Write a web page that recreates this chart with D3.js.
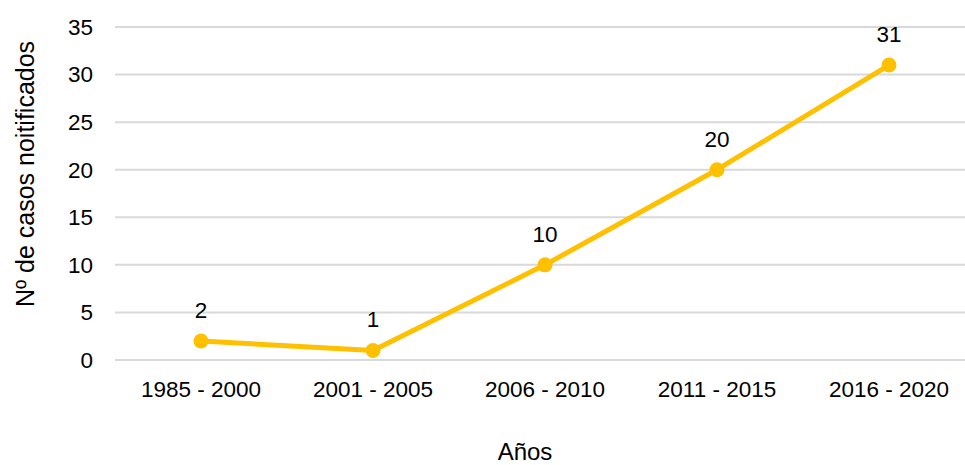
<!DOCTYPE html>
<html>
<head>
<meta charset="utf-8">
<script src="https://cdn.jsdelivr.net/npm/d3@7"></script>
<style>
  body { margin: 0; background: #fff; }
  text { font-family: "Liberation Sans", Arial, sans-serif; fill: #000; }
</style>
</head>
<body>
<script>
var periods = ["1985 - 2000", "2001 - 2005", "2006 - 2010", "2011 - 2015", "2016 - 2020"];
var casos = [2, 1, 10, 20, 31];
var yTicks = [0, 5, 10, 15, 20, 25, 30, 35];

var w = 965, h = 465;
var mLeft = 115, mRight = 975, mTop = 27, mBottom = 360;

var svg = d3.select("body").append("svg")
    .attr("width", w)
    .attr("height", h);

var x = d3.scaleBand().domain(periods).range([mLeft, mRight]);
var y = d3.scaleLinear().domain([0, 35]).range([mBottom, mTop]);

// gridlines
svg.selectAll("line.grid")
  .data(yTicks)
  .enter()
  .append("line")
    .attr("class", "grid")
    .attr("x1", mLeft)
    .attr("x2", mRight)
    .attr("y1", function(d){ return y(d) })
    .attr("y2", function(d){ return y(d) })
    .style("stroke", "#d9d9d9")
    .style("stroke-width", 2);

// y tick labels
svg.selectAll("text.ytick")
  .data(yTicks)
  .enter()
  .append("text")
    .attr("class", "ytick")
    .attr("x", 93)
    .attr("y", function(d){ return y(d) })
    .attr("dy", "0.35em")
    .attr("text-anchor", "end")
    .style("font-size", "22.5px")
    .text(function(d){ return d });

// x tick labels
svg.selectAll("text.xtick")
  .data(periods)
  .enter()
  .append("text")
    .attr("class", "xtick")
    .attr("x", function(d){ return x(d) + x.bandwidth() / 2 })
    .attr("y", 397)
    .attr("text-anchor", "middle")
    .style("font-size", "22.5px")
    .text(function(d){ return d });

var pts = periods.map(function(p, i){ return {p: p, v: casos[i]} });

var line = d3.line()
    .x(function(d){ return x(d.p) + x.bandwidth() / 2 })
    .y(function(d){ return y(d.v) });

svg.append("path")
    .datum(pts)
    .attr("d", line)
    .style("fill", "none")
    .style("stroke", "#ffc000")
    .style("stroke-width", 5)
    .style("stroke-linejoin", "round");

svg.selectAll("circle")
  .data(pts)
  .enter()
  .append("circle")
    .attr("cx", function(d){ return x(d.p) + x.bandwidth() / 2 })
    .attr("cy", function(d){ return y(d.v) })
    .attr("r", 7.5)
    .style("fill", "#ffc000");

svg.selectAll("text.lbl")
  .data(pts)
  .enter()
  .append("text")
    .attr("class", "lbl")
    .attr("x", function(d){ return x(d.p) + x.bandwidth() / 2 })
    .attr("y", function(d){ return y(d.v) - 31 })
    .attr("dy", "0.35em")
    .attr("text-anchor", "middle")
    .style("font-size", "22.5px")
    .text(function(d){ return d.v });

// axis titles
svg.append("text")
    .attr("x", 525)
    .attr("y", 452)
    .attr("dy", "0.35em")
    .attr("text-anchor", "middle")
    .style("font-size", "24px")
    .text("Años");

svg.append("text")
    .attr("transform", "translate(25,174) rotate(-90)")
    .attr("dy", "0.35em")
    .attr("text-anchor", "middle")
    .style("font-size", "25px")
    .text("Nº de casos noitificados");
</script>
</body>
</html>
